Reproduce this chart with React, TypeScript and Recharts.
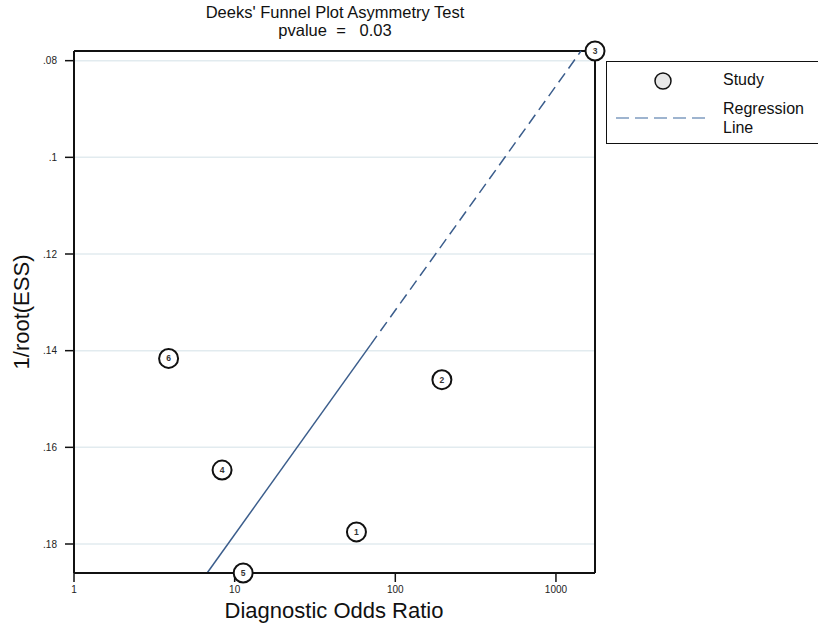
import { ScatterChart, Scatter, XAxis, YAxis, CartesianGrid, ReferenceLine } from "recharts";

// studies
const studyIds = [1, 2, 3, 4, 5, 6];
const studyDor = [57.3, 195, 1750, 8.35, 11.3, 3.88];
const studyInvRootEss = [0.1775, 0.146, 0.078, 0.1647, 0.186, 0.1416];

// regression line: solid lower part, dashed upper part
const regDor = [6.74, 70.1, 1432];
const regInvRootEss = [0.186, 0.1388, 0.078];

const xTicks = [1, 10, 100, 1000];
const yTicks = [0.08, 0.1, 0.12, 0.14, 0.16, 0.18];

const studies = studyIds.map((id, i) => ({ id, x: studyDor[i], y: studyInvRootEss[i] }));

const FONT = '"Liberation Sans", Arial, Helvetica, sans-serif';
const LINE_BLUE = "#3b5d8c";

function StudyMarker(props: any) {
  const { cx, cy, payload } = props;
  return (
    <g>
      <circle cx={cx} cy={cy} r={9.5} fill="#fff" stroke="#111" strokeWidth={2} />
      <text x={cx} y={cy} dy="0.35em" textAnchor="middle" fontSize={8.5} fontWeight="bold" fill="#333">
        {payload.id}
      </text>
    </g>
  );
}

export default function App() {
  return (
    <div
      style={{
        position: "absolute",
        left: 0,
        top: 0,
        width: 818,
        height: 625,
        background: "#fff",
        fontFamily: FONT,
        overflow: "hidden",
      }}
    >
      <ScatterChart width={818} height={625} margin={{ top: 51, right: 223, bottom: 0, left: 0 }}>
        <CartesianGrid horizontal vertical={false} stroke="#e2ebef" strokeWidth={1.5} />
        <XAxis
          type="number"
          dataKey="x"
          scale="log"
          domain={[1, 1750]}
          ticks={xTicks}
          height={52}
          axisLine={{ stroke: "#111", strokeWidth: 2 }}
          tickLine={{ stroke: "#111", strokeWidth: 1.5 }}
          tickSize={9}
          tickMargin={4}
          tick={{ fontSize: 10, fill: "#222" }}
        />
        <YAxis
          type="number"
          dataKey="y"
          reversed
          domain={[0.078, 0.186]}
          ticks={yTicks}
          width={74}
          axisLine={{ stroke: "#111", strokeWidth: 2 }}
          tickLine={{ stroke: "#111", strokeWidth: 1.5 }}
          tickSize={9}
          tickMargin={8}
          tick={{ fontSize: 10, fill: "#222" }}
          tickFormatter={(v: number) => String(v).replace(/^0/, "")}
        />
        <ReferenceLine y={0.078} stroke="#111" strokeWidth={2} />
        <ReferenceLine x={1750} stroke="#111" strokeWidth={2} />
        <ReferenceLine
          segment={[
            { x: regDor[0], y: regInvRootEss[0] },
            { x: regDor[1], y: regInvRootEss[1] },
          ]}
          stroke={LINE_BLUE}
          strokeWidth={1.5}
          ifOverflow="visible"
        />
        <ReferenceLine
          segment={[
            { x: regDor[1], y: regInvRootEss[1] },
            { x: regDor[2], y: regInvRootEss[2] },
          ]}
          stroke={LINE_BLUE}
          strokeWidth={1.5}
          strokeDasharray="11 6"
          ifOverflow="visible"
        />
        <Scatter data={studies} shape={<StudyMarker />} isAnimationActive={false} />
      </ScatterChart>

      {/* title */}
      <div style={{ position: "absolute", left: 335, top: 3, transform: "translateX(-50%)", fontSize: 16.5, lineHeight: "18px", textAlign: "center", whiteSpace: "nowrap", color: "#111" }}>
        Deeks' Funnel Plot Asymmetry Test
        <br />
        pvalue&nbsp; = &nbsp;&nbsp;0.03
      </div>

      {/* axis titles */}
      <div style={{ position: "absolute", left: 22, top: 312, transform: "translate(-50%, -50%) rotate(-90deg)", fontSize: 22, whiteSpace: "nowrap", color: "#111" }}>
        1/root(ESS)
      </div>
      <div style={{ position: "absolute", left: 334, top: 611, transform: "translate(-50%, -50%)", fontSize: 22, whiteSpace: "nowrap", color: "#111" }}>
        Diagnostic Odds Ratio
      </div>

      {/* legend */}
      <div style={{ position: "absolute", left: 606, top: 61, width: 220, height: 83, border: "1.5px solid #111", boxSizing: "border-box" }}>
        <svg width={110} height={80} style={{ position: "absolute", left: 0, top: 0 }}>
          <circle cx={56} cy={19} r={8} fill="#e8e8e8" stroke="#111" strokeWidth={1.5} />
          <line x1={9} y1={56} x2={101} y2={56} stroke="#7f9cc0" strokeWidth={1.5} strokeDasharray="13 6" />
        </svg>
        <div style={{ position: "absolute", left: 116, top: 9, fontSize: 16, lineHeight: "18px", color: "#111" }}>Study</div>
        <div style={{ position: "absolute", left: 116, top: 37, fontSize: 16, lineHeight: "19px", color: "#111" }}>
          Regression
          <br />
          Line
        </div>
      </div>
    </div>
  );
}
